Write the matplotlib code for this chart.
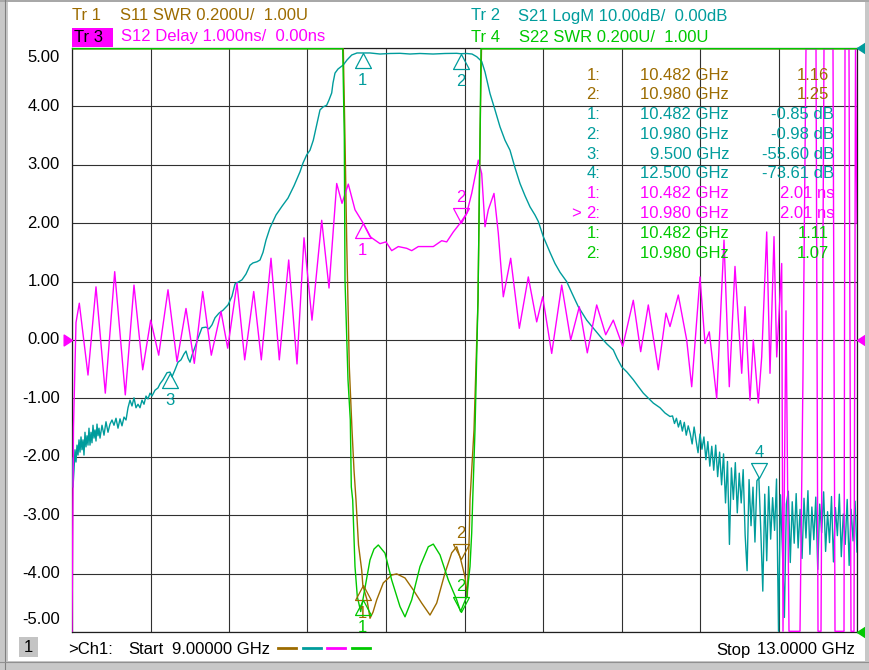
import numpy as np
import matplotlib
matplotlib.use("Agg")
import matplotlib.pyplot as plt
from matplotlib.path import Path
from matplotlib.patches import Rectangle

plt.rcParams['font.family'] = ['Liberation Sans', 'DejaVu Sans']

W, H = 869, 670
BROWN = '#9C6B00'
TEAL = '#009C9C'
MAGENTA = '#FF00FF'
GREEN = '#00C800'
GRIDC = '#303030'
FS = 12

# ------------------------------------------------------------------ data
f_start, f_stop = 9.0, 13.0

# Tr1  S11 SWR
s11_freq = [9.000, 10.3758, 10.3824, 10.3911, 10.3997, 10.4130, 10.4268, 10.4369, 10.4471,
            10.4599, 10.4762, 10.482, 10.5032, 10.5185, 10.5338, 10.5526, 10.5862, 10.6290,
            10.6545, 10.6968, 10.7391, 10.7819, 10.8242, 10.8583, 10.9006, 10.9348, 10.9603,
            10.980, 11.0025, 11.0143, 11.0245, 11.0280, 11.0484, 11.0688, 11.0790, 11.0866,
            11.0943, 13.000]
s11_swr = [9.0, 3.5, 3.0, 2.685, 2.342, 1.908, 1.692, 1.555, 1.452,
           1.298, 1.212, 1.16, 1.110, 1.047, 1.068, 1.110, 1.168, 1.195,
           1.199, 1.185, 1.144, 1.099, 1.058, 1.099, 1.202, 1.271, 1.292,
           1.25, 1.189, 1.121, 1.339, 1.452, 1.692, 2.137, 2.685, 3.0,
           3.5, 9.0]

# Tr4  S22 SWR
s22_freq = [9.000, 10.3707, 10.3794, 10.3875, 10.3911, 10.4064, 10.4181, 10.4232, 10.4303,
            10.4420, 10.4538, 10.4711, 10.482, 10.5185, 10.5389, 10.5608, 10.5949, 10.6290,
            10.6713, 10.6968, 10.7310, 10.7732, 10.8155, 10.8410, 10.8752, 10.9175, 10.9603,
            10.980, 11.0112, 11.0280, 11.0367, 11.0418, 11.0535, 11.0688, 11.0790, 11.0841,
            11.0994, 13.000]
s22_swr = [9.0, 3.5, 3.0, 2.695, 2.205, 1.863, 1.726, 1.497, 1.452,
           1.224, 1.121, 1.070, 1.11, 1.247, 1.284, 1.298, 1.270, 1.178,
           1.087, 1.052, 1.110, 1.224, 1.292, 1.301, 1.264, 1.178, 1.110,
           1.07, 1.121, 1.224, 1.339, 1.452, 1.692, 2.137, 2.685, 3.0,
           3.5, 9.0]

# Tr2  S21 LogM (dB)
s21_freq = [9.0000, 9.0051, 9.0102, 9.0153, 9.0204, 9.0255, 9.0306, 9.0357, 9.0408, 9.0459,
            9.0510, 9.0561, 9.0611, 9.0662, 9.0713, 9.0764, 9.0815, 9.0866, 9.0917, 9.0968,
            9.1019, 9.1070, 9.1121, 9.1172, 9.1223, 9.1274, 9.1325, 9.1376, 9.1427, 9.1529,
            9.1631, 9.1732, 9.1834, 9.1936, 9.2038, 9.2140, 9.2242, 9.2344, 9.2446, 9.2548,
            9.2650, 9.2752, 9.2854, 9.2955, 9.3057, 9.3159, 9.3261, 9.3363, 9.3465, 9.3567,
            9.3669, 9.3771, 9.3873, 9.3975, 9.4076, 9.4229, 9.4382, 9.4484, 9.4637, 9.4739,
            9.4841, 9.4994, 9.5096, 9.5248, 9.5401, 9.5554, 9.5707, 9.5809, 9.5911, 9.6013,
            9.6115, 9.6268, 9.6420, 9.6624, 9.6828, 9.6981, 9.7134, 9.7287, 9.7490, 9.7694,
            9.7949, 9.8153, 9.8306, 9.8459, 9.8662, 9.8866, 9.9070, 9.9223, 9.9427, 9.9580,
            9.9732, 9.9885, 10.0089, 10.0395, 10.0701, 10.1006, 10.1312, 10.1618, 10.1771,
            10.1959, 10.2127, 10.2295, 10.2433, 10.2637, 10.2790, 10.2978, 10.3096, 10.3233,
            10.3299, 10.3401, 10.3554, 10.3824, 10.4013, 10.4252, 10.4522, 10.482, 10.5185,
            10.5694, 10.6204, 10.6713, 10.7223, 10.7732, 10.8395, 10.9006, 10.9602, 10.980,
            11.0112, 11.0382, 11.0622, 11.0876, 11.1045, 11.1299, 11.1554, 11.1809, 11.2064,
            11.2318, 11.2573, 11.2828, 11.3083, 11.3338, 11.3592, 11.3761, 11.4015, 11.4357,
            11.4611, 11.4866, 11.5207, 11.5478, 11.5799, 11.6227, 11.6650, 11.6991, 11.7261,
            11.7582, 11.7771, 11.8010, 11.8280, 11.8601, 11.8841, 11.9111, 11.9350, 11.9620,
            11.9962, 12.0217, 12.0471]
s21_db = [-70.2, -75.2, -72.3, -68.8, -70.9, -68.0, -69.7, -67.1, -69.2, -66.6,
          -68.8, -67.1, -69.7, -65.8, -68.3, -66.4, -68.0, -65.1, -68.0, -65.8,
          -67.6, -64.6, -66.8, -65.4, -67.3, -64.4, -66.4, -65.1, -66.8, -64.6,
          -66.3, -64.0, -65.8, -64.4, -63.7, -64.6, -63.4, -65.1, -63.5, -64.7,
          -63.2, -63.7, -61.6, -60.3, -61.3, -59.9, -61.6, -61.0, -61.6, -60.3,
          -61.0, -59.6, -60.1, -59.1, -59.6, -58.6, -58.2, -57.5, -56.8, -56.2,
          -55.6, -55.5, -56.3, -55.1, -53.8, -53.4, -52.4, -51.9, -53.1, -53.8,
          -52.6, -51.2, -49.7, -47.9, -47.8, -48.1, -47.4, -46.2, -45.4, -44.9,
          -44.0, -42.5, -40.4, -40.1, -39.7, -38.7, -37.2, -36.8, -36.6, -36.3,
          -35.0, -32.9, -30.8, -28.6, -27.1, -25.7, -23.6, -21.2, -19.7,
          -18.3, -17.5, -15.8, -13.7, -10.6, -10.1, -9.8, -8.9, -7.7,
          -6.0, -4.3, -3.6, -2.9, -2.05, -1.2, -0.85, -0.85, -0.85,
          -1.03, -0.94, -0.91, -1.03, -0.94, -1.03, -0.94, -0.91, -0.98,
          -0.94, -1.03, -1.49, -2.3, -4.1, -7.8, -10.6, -13.5, -15.8,
          -17.5, -20.5, -23.2, -25.3, -27.2, -28.6, -29.7, -32.3, -35.0,
          -36.9, -38.4, -40.0, -42.0, -44.3, -46.6, -48.3, -49.7, -50.7,
          -51.7, -53.1, -54.6, -55.5, -56.8, -57.9, -59.1, -59.9, -60.8,
          -61.6, -62.5, -63.1]
s21_tail_freq = [12.06, 12.07, 12.08, 12.09, 12.10, 12.11, 12.12, 12.13, 12.14, 12.15,
                 12.16, 12.17, 12.18, 12.19, 12.20, 12.21, 12.22, 12.23, 12.24, 12.25,
                 12.26, 12.27, 12.28, 12.29, 12.30, 12.31, 12.32, 12.33, 12.34, 12.35,
                 12.36, 12.37, 12.38, 12.39, 12.40, 12.41, 12.42, 12.43, 12.44, 12.45,
                 12.46, 12.47, 12.48, 12.49, 12.50, 12.51, 12.52, 12.53, 12.54, 12.55,
                 12.56, 12.57, 12.58, 12.59, 12.60, 12.61, 12.62, 12.63, 12.64, 12.65,
                 12.66, 12.67, 12.68, 12.69, 12.70, 12.71, 12.72, 12.73, 12.74, 12.75,
                 12.76, 12.77, 12.78, 12.79, 12.80, 12.81, 12.82, 12.83, 12.84, 12.85,
                 12.86, 12.87, 12.88, 12.89, 12.90, 12.91, 12.92, 12.93, 12.94, 12.95,
                 12.96, 12.97, 12.98, 12.99, 13.00]
s21_tail_db = [-63.0, -64.3, -63.4, -64.9, -63.8, -65.6, -64.1, -66.3, -64.7, -66.0,
               -67.8, -64.9, -67.2, -69.3, -66.1, -68.7, -66.6, -70.5, -67.4, -71.6,
               -68.2, -72.3, -68.0, -73.4, -69.2, -74.8, -69.5, -77.9, -70.8, -85.0,
               -71.9, -77.3, -71.0, -79.6, -72.8, -77.9, -72.2, -83.4, -89.5, -73.9,
               -81.8, -75.2, -84.6, -74.1, -73.61, -82.9, -93.0, -76.4, -87.8, -75.1,
               -84.1, -77.0, -82.6, -73.8, -100.0, -76.5, -86.0, -97.5, -78.1, -75.9,
               -88.1, -77.7, -84.8, -76.3, -85.6, -79.0, -87.4, -77.1, -83.9, -75.8,
               -86.7, -78.6, -84.2, -76.9, -89.3, -78.1, -83.0, -76.0, -86.2, -79.4,
               -84.7, -76.8, -88.0, -78.7, -83.5, -76.4, -87.1, -79.8, -85.0, -77.3,
               -88.6, -79.0, -84.4, -77.6, -86.3]

# Tr3  S12 group delay (ns)
s12_freq = [9.000, 9.0076, 9.0204, 9.0372, 9.0815, 9.1223, 9.1697, 9.2176, 9.2716, 9.3159,
            9.3603, 9.4010, 9.4418, 9.4892, 9.5350, 9.5809, 9.6232, 9.6660, 9.7098, 9.7592,
            9.7934, 9.8408, 9.8800, 9.9259, 9.9646, 10.0140, 10.0563, 10.1042, 10.1465,
            10.1822, 10.2229, 10.2724, 10.3096, 10.3488, 10.3758, 10.4079, 10.4420, 10.482,
            10.5185, 10.5694, 10.6000, 10.6290, 10.6627, 10.7055, 10.7310, 10.7646, 10.8410,
            10.8838, 10.9093, 10.9429, 10.980, 11.0112, 11.0367, 11.0703, 11.0876, 11.1045,
            11.1213, 11.1503, 11.1722, 11.1977, 11.2354, 11.2793, 11.3251, 11.3679, 11.3985,
            11.4443, 11.4953, 11.5411, 11.5850, 11.6257, 11.6736, 11.7195, 11.7582, 11.8061,
            11.8601, 11.8978, 11.9366, 11.9875, 12.0268, 12.0471, 12.0894, 12.1322, 12.1577,
            12.2000, 12.2255, 12.2474, 12.2851, 12.3223, 12.3493, 12.3783, 12.4125, 12.4293,
            12.4548, 12.4716, 12.4971, 12.5144, 12.5399, 12.5567, 12.5771, 12.5909, 12.6163,
            12.6229, 12.6382, 12.6535, 12.7096, 12.7248, 12.7401, 12.7911, 12.8013, 12.8166,
            12.8318, 12.8777, 12.8879, 12.9338, 12.9389, 12.9592, 12.9694, 12.9847, 12.9924,
            13.000]
s12_ns = [-6.0, -1.5, 0.3, 0.63, -0.60, 0.91, -0.91, 1.17, -0.94, 0.94,
          -0.51, 0.34, -0.26, 0.86, -0.37, 0.54, -0.40, 0.83, -0.26, 0.49,
          -0.14, 0.97, -0.34, 0.83, -0.34, 1.40, -0.34, 1.37, -0.41,
          1.75, 0.34, 2.05, 0.89, 2.68, 2.34, 2.67, 2.23, 2.01,
          1.77, 1.65, 1.68, 1.53, 1.60, 1.57, 1.53, 1.60, 1.60,
          1.70, 1.68, 1.85, 2.01, 2.17, 2.51, 3.08, 2.85, 1.94,
          2.23, 2.51, 1.83, 0.74, 1.40, 0.20, 1.08, 0.31, 0.74,
          -0.23, 0.94, 0.00, 0.57, -0.22, 0.60, 0.09, 0.34, -0.11,
          0.68, -0.20, 0.60, -0.51, 0.46, 0.23, 0.77, 0.00, -0.80,
          1.08, -0.06, 0.14, -1.00, 1.71, -0.80, 1.26, -0.57, 0.57,
          -1.03, 0.00, -1.08, -0.29, 1.85, -0.57, 1.77, -0.29, 1.31,
          -7.0, 0.5, -7.0, -7.0, -0.6, 7.0, 7.0, -7.0, -7.0,
          7.0, 7.0, -7.0, -7.0, 7.0, 7.0, -7.0, -7.0, 7.0,
          2.0]

# marker table
tr1_mk_num = [1, 2]
tr1_mk_freq = [10.482, 10.980]
tr1_mk_val = [1.16, 1.25]
tr2_mk_num = [1, 2, 3, 4]
tr2_mk_freq = [10.482, 10.980, 9.500, 12.500]
tr2_mk_val = [-0.85, -0.98, -55.60, -73.61]
tr3_mk_num = [1, 2]
tr3_mk_freq = [10.482, 10.980]
tr3_mk_val = [2.01, 2.01]
tr4_mk_num = [1, 2]
tr4_mk_freq = [10.482, 10.980]
tr4_mk_val = [1.11, 1.07]
active_marker = {1: 2, 2: 4, 3: 2, 4: 2}

y_tick_values = [5, 4, 3, 2, 1, 0, -1, -2, -3, -4, -5]

# ------------------------------------------------------------------ scaling (divisions)
LIM = 4.988


def swr_div(v):
    return np.clip((np.asarray(v, float) - 1.0) / 0.2 - 5.0, -LIM, LIM)


def db_div(v):
    return np.clip(np.asarray(v, float) / 10.0 + 5.0, -LIM, LIM)


def ns_div(v):
    return np.clip(np.asarray(v, float) / 1.0, -LIM, LIM)


# ------------------------------------------------------------------ figure
fig = plt.figure(figsize=(W / 100, H / 100), dpi=100)
fig.patch.set_facecolor('white')


def px(x, y):
    return x / W, 1 - y / H


ax = fig.add_axes([72 / W, 1 - 632 / H, (857 - 72) / W, (632 - 48) / H])
ax.set_xlim(f_start, f_stop)
ax.set_ylim(-5, 5)
ax.set_xticks(np.linspace(f_start, f_stop, 11))
ax.set_yticks(y_tick_values)
ax.tick_params(length=0, labelbottom=False, labelleft=False)
ax.grid(True, color=GRIDC, lw=0.8, zorder=1)
ax.set_axisbelow(True)
for sp in ax.spines.values():
    sp.set_color('#202020')
    sp.set_linewidth(0.9)

for v in y_tick_values:
    dy = 0
    if v == 5:
        dy = -10
    elif v == -5:
        dy = 12
    ax.annotate(f"{v:.2f}", xy=(0, v), xycoords=ax.get_yaxis_transform(),
                xytext=(-12 * 0.72, dy * 0.72), textcoords='offset points',
                ha='right', va='center', fontsize=FS, color='black', annotation_clip=False)

LW = 1.0
ax.plot(s11_freq, swr_div(s11_swr), color=BROWN, lw=LW, zorder=3)
ax.plot(list(s21_freq) + list(s21_tail_freq), db_div(list(s21_db) + list(s21_tail_db)),
        color=TEAL, lw=LW, zorder=3.1)
ax.plot(s12_freq, ns_div(s12_ns), color=MAGENTA, lw=LW, zorder=3.2)
ax.plot(s22_freq, swr_div(s22_swr), color=GREEN, lw=LW, zorder=3.3)

# marker symbols
up_tri = Path([(0, 0), (-0.53, -1), (0.53, -1), (0, 0)],
              [Path.MOVETO, Path.LINETO, Path.LINETO, Path.CLOSEPOLY])
dn_tri = Path([(0, 0), (-0.53, 1), (0.53, 1), (0, 0)],
              [Path.MOVETO, Path.LINETO, Path.LINETO, Path.CLOSEPOLY])

traces = [
    (1, tr1_mk_num, tr1_mk_freq, tr1_mk_val, swr_div, BROWN),
    (2, tr2_mk_num, tr2_mk_freq, tr2_mk_val, db_div, TEAL),
    (3, tr3_mk_num, tr3_mk_freq, tr3_mk_val, ns_div, MAGENTA),
    (4, tr4_mk_num, tr4_mk_freq, tr4_mk_val, swr_div, GREEN),
]
for tr, nums, freqs, vals, conv, col in traces:
    for n, f, v in zip(nums, freqs, vals):
        d = float(conv(v))
        active = (active_marker[tr] == n)
        ax.plot([f], [d], marker=dn_tri if active else up_tri, ms=21.6, mfc='none',
                mec=col, mew=0.9, ls='none', clip_on=False, zorder=4)
        ax.annotate(str(n), xy=(f, d), xytext=(0, (25 if active else -28) * 0.72),
                    textcoords='offset points', ha='center', va='center',
                    fontsize=FS, color=col, annotation_clip=False, zorder=4)

# reference position indicators
left_tip = Path([(0, 0), (1, 0.65), (1, -0.65), (0, 0)],
                [Path.MOVETO, Path.LINETO, Path.LINETO, Path.CLOSEPOLY])
right_tip = Path([(0, 0), (-1, 0.65), (-1, -0.65), (0, 0)],
                 [Path.MOVETO, Path.LINETO, Path.LINETO, Path.CLOSEPOLY])
for yv, col in [(5, TEAL), (0, MAGENTA), (-5, GREEN)]:
    ax.plot([1.0], [yv], transform=ax.get_yaxis_transform(), marker=left_tip, ms=14,
            color=col, mec=col, ls='none', clip_on=False, zorder=5)
ax.plot([0.0], [0], transform=ax.get_yaxis_transform(), marker=right_tip, ms=12,
        color=MAGENTA, mec=MAGENTA, ls='none', clip_on=False, zorder=5)

# ------------------------------------------------------------------ header
def ftext(x, y, s, **kw):
    kw.setdefault('fontsize', FS)
    kw.setdefault('va', 'center')
    fig.text(*px(x, y), s, **kw)


ftext(72, 16, "Tr 1", color=BROWN)
ftext(120, 16, "S11 SWR 0.200U/  1.00U", color=BROWN)
ftext(471, 16, "Tr 2", color=TEAL)
ftext(518, 16, "S21 LogM 10.00dB/  0.00dB", color=TEAL)
fig.patches.append(Rectangle(px(72, 47), 41 / W, 19 / H, transform=fig.transFigure,
                             facecolor=MAGENTA, edgecolor='none'))
ftext(74, 37, "Tr 3", color='black')
ftext(121, 37, "S12 Delay 1.000ns/  0.00ns", color=MAGENTA)
ftext(471, 37, "Tr 4", color=GREEN)
ftext(519, 37, "S22 SWR 0.200U/  1.00U", color=GREEN)

# ------------------------------------------------------------------ marker table
rows = []
for tr, nums, freqs, vals, conv, col in traces:
    for n, f, v in zip(nums, freqs, vals):
        if tr == 2:
            vs, xr = f"{v:.2f} dB", 834
        elif tr == 3:
            vs, xr = f"{v:.2f} ns", 834
        else:
            vs, xr = f"{v:.2f}", 829
        rows.append((tr, n, f, vs, xr, col))
for i, (tr, n, f, vs, xr, col) in enumerate(rows):
    y = 75 + 19.8 * i
    ftext(600, y, f"{n}:", color=col, ha='right')
    if tr == 3 and active_marker[3] == n:
        ftext(571, y, ">", color=col, ha='left')
    ftext(729, y, f"{f:.3f} GHz", color=col, ha='right')
    ftext(xr, y, vs, color=col, ha='right')

# ------------------------------------------------------------------ footer
fig.patches.append(Rectangle(px(19, 657), 19 / W, 20 / H, transform=fig.transFigure,
                             facecolor='#C4C4C4', edgecolor='none'))
ftext(28.5, 647, "1", color='black', ha='center')
ftext(68, 650, ">Ch1:", color='black')
ftext(128, 650, "Start", color='black')
ftext(172, 650, "9.00000 GHz", color='black')
for x0, col in [(278, BROWN), (303, TEAL), (327, MAGENTA), (352, GREEN)]:
    fig.add_artist(plt.Line2D([x0 / W, (x0 + 18) / W], [1 - 648 / H, 1 - 648 / H],
                              transform=fig.transFigure, color=col, lw=2.0))
ftext(716, 650, "Stop", color='black')
ftext(855, 650, "13.0000 GHz", color='black', ha='right')

# ------------------------------------------------------------------ screen frame
frame = [
    (0, 0, 8, H, '#C8C8C8'),
    (0, 661, W, 9, '#C8C8C8'),
    (865, 0, 4, H, '#C8C8C8'),
    (0, 0, W, 2, '#A8A8A8'),
]
for x0, y0, w, h, c in frame:
    fig.patches.append(Rectangle((x0 / W, 1 - (y0 + h) / H), w / W, h / H,
                                 transform=fig.transFigure, facecolor=c, edgecolor='none'))
fig.add_artist(plt.Line2D([5 / W, 5 / W], [0, 1], transform=fig.transFigure, color='#808080', lw=0.8))
fig.add_artist(plt.Line2D([0, 1], [1 - 662 / H, 1 - 662 / H], transform=fig.transFigure,
                          color='#909090', lw=0.8))

fig.savefig("out.png", dpi=100, facecolor='white')
